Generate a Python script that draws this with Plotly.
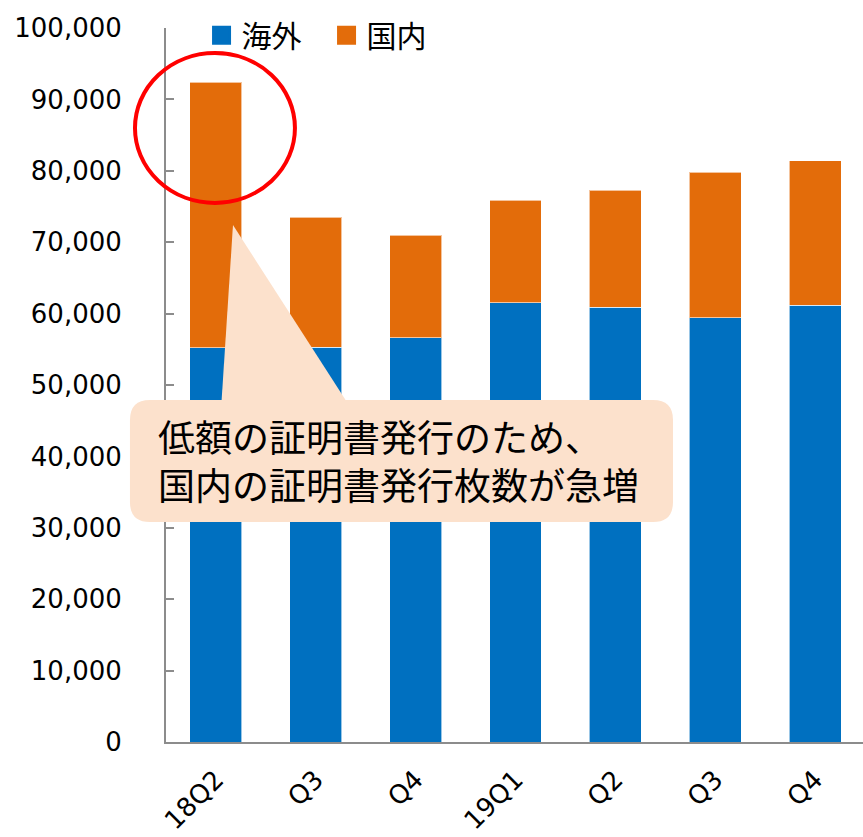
import plotly.graph_objects as go

categories = ["18Q2", "Q3", "Q4", "19Q1", "Q2", "Q3", "Q4"]
overseas = [55200, 55300, 56600, 61500, 60900, 59400, 61200]   # 海外
domestic = [37200, 18200, 14400, 14400, 16400, 20400, 20200]   # 国内
y_ticks = [0, 10000, 20000, 30000, 40000, 50000, 60000, 70000, 80000, 90000, 100000]

BLUE = "#0070C0"
ORANGE = "#E36C0A"
PEACH = "#FCE1CC"
AXIS = "#8C8C8C"
JP = "Noto Sans CJK JP"
TICK_FONT = "DejaVu Sans"

xs = list(range(len(categories)))

fig = go.Figure()
fig.add_trace(go.Bar(x=xs, y=overseas, name="海外", marker=dict(color=BLUE, line=dict(color="rgba(255,255,255,0.6)", width=1)),
                     width=0.52, showlegend=False))
fig.add_trace(go.Bar(x=xs, y=domestic, name="国内", marker=dict(color=ORANGE, line=dict(color="rgba(255,255,255,0.6)", width=1)),
                     width=0.52, showlegend=False))
# legend entries (square swatches)
fig.add_trace(go.Scatter(x=[None], y=[None], mode="markers", name="海外",
                         marker=dict(symbol="square", size=22, color=BLUE, line=dict(color=BLUE, width=3))))
fig.add_trace(go.Scatter(x=[None], y=[None], mode="markers", name="国内",
                         marker=dict(symbol="square", size=22, color=ORANGE, line=dict(color=ORANGE, width=3))))

# callout box (rounded rectangle) in paper coordinates
bx0, bx1, by0, by1 = -0.0517, 0.7274, 0.308, 0.479
rx, ry = 0.0287, 0.028
box_path = (f"M {bx0+rx},{by1} L {bx1-rx},{by1} Q {bx1},{by1} {bx1},{by1-ry} "
            f"L {bx1},{by0+ry} Q {bx1},{by0} {bx1-rx},{by0} L {bx0+rx},{by0} "
            f"Q {bx0},{by0} {bx0},{by0+ry} L {bx0},{by1-ry} Q {bx0},{by1} {bx0+rx},{by1} Z")
tri_path = "M 0.0961,0.724 L 0.0789,0.465 L 0.2669,0.465 Z"

shapes = [
    dict(type="path", path=tri_path, xref="paper", yref="paper", fillcolor=PEACH, line=dict(width=0), layer="above"),
    dict(type="path", path=box_path, xref="paper", yref="paper", fillcolor=PEACH, line=dict(width=0), layer="above"),
    dict(type="circle", xref="paper", yref="paper", x0=-0.0445, x1=0.185, y0=0.755, y1=0.965,
         line=dict(color="#FF0000", width=4), layer="above"),
]

fig.update_layout(
    width=863, height=837,
    margin=dict(l=166, r=0, t=28, b=95),
    barmode="stack",
    plot_bgcolor="white", paper_bgcolor="white",
    shapes=shapes,
    font=dict(family=TICK_FONT, color="#000000"),
    legend=dict(orientation="h", x=0.051, xanchor="left", y=0.99, yanchor="middle", traceorder="normal",
                font=dict(family=JP, size=30, color="#000000"), entrywidth=80,
                bgcolor="rgba(0,0,0,0)"),
    annotations=[dict(x=-0.0143, y=0.395, xref="paper", yref="paper", xanchor="left", yanchor="middle",
                      align="left", showarrow=False,
                      text="低額の証明書発行のため、<br>国内の証明書発行枚数が急増",
                      font=dict(family=JP, size=37, color="#000000"))],
)
fig.update_xaxes(range=[-0.5, 6.48], tickvals=xs, ticktext=categories, tickangle=-45,
                 showline=True, linecolor=AXIS, linewidth=2, ticks="", showgrid=False, ticklabelstandoff=10,
                 tickfont=dict(family=TICK_FONT, size=26, color="#000000"), zeroline=False)
fig.update_yaxes(range=[0, 100000], tickvals=y_ticks, tickformat=",", showline=True, linecolor=AXIS,
                 linewidth=2, ticks="inside", ticklen=8, tickwidth=2, tickcolor=AXIS, showgrid=False,
                 zeroline=False, ticklabelstandoff=37,
                 tickfont=dict(family=TICK_FONT, size=26, color="#000000"))

fig.write_html("out.html")
